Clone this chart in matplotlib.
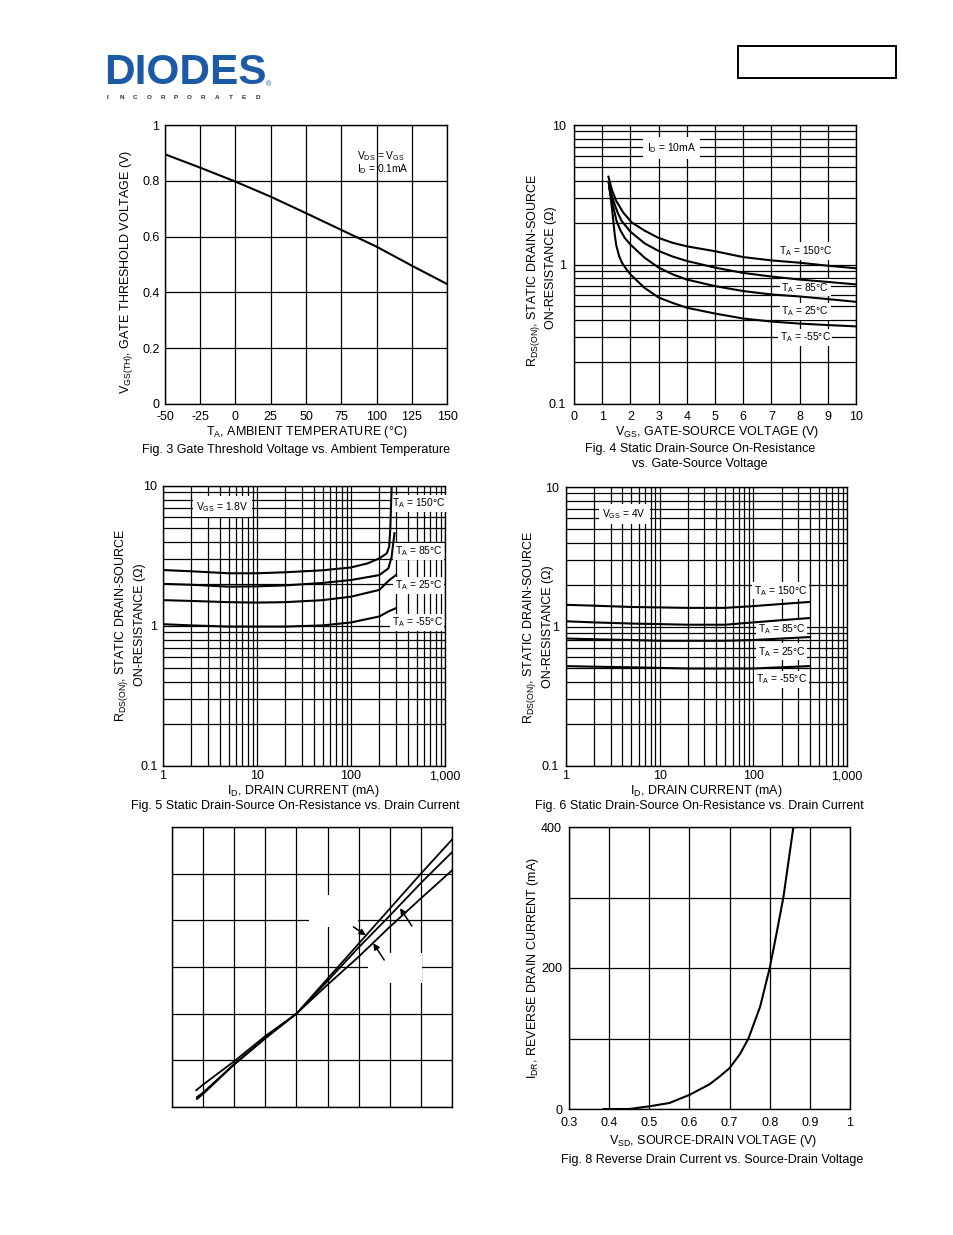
import numpy as np
import matplotlib
matplotlib.use('Agg')
import matplotlib.pyplot as plt
from matplotlib.ticker import LogLocator, NullFormatter, FixedLocator
from matplotlib.patches import Rectangle

plt.rcParams['font.family'] = ['Liberation Sans', 'DejaVu Sans']
plt.rcParams['mathtext.fontset'] = 'custom'
plt.rcParams['mathtext.rm'] = 'Liberation Sans'
plt.rcParams['mathtext.it'] = 'Liberation Sans:italic'
plt.rcParams['mathtext.bf'] = 'Liberation Sans:bold'

# ---------------- data ----------------
# Fig 3: gate threshold voltage vs ambient temperature
fig3_temp = [-50, -25, 0, 25, 50, 75, 100, 125, 150]
fig3_vth = [0.895, 0.847, 0.797, 0.743, 0.684, 0.624, 0.564, 0.496, 0.43]
fig3_xticks = [-50, -25, 0, 25, 50, 75, 100, 125, 150]
fig3_yticks = [0, 0.2, 0.4, 0.6, 0.8, 1]
fig3_ylabels = ['0', '0.2', '0.4', '0.6', '0.8', '1']

# Fig 4: RDS(on) vs VGS (ID = 10mA)
fig4_vgs_150 = [1.22, 1.35, 1.5, 1.75, 2.05, 2.5, 3, 3.5, 4, 5, 6, 7, 8, 9, 10]
fig4_r_150 = [4.26, 3.4, 2.85, 2.35, 2.0, 1.75, 1.55, 1.43, 1.35, 1.245, 1.13, 1.07, 1.03, 0.98, 0.94]
fig4_vgs_85 = [1.22, 1.3, 1.4, 1.55, 1.69, 2, 2.5, 3, 3.5, 4, 5, 6, 7, 8, 9, 10]
fig4_r_85 = [3.9, 3.3, 2.85, 2.35, 2.05, 1.72, 1.42, 1.25, 1.14, 1.06, 0.95, 0.87, 0.82, 0.78, 0.75, 0.72]
fig4_vgs_25 = [1.25, 1.32, 1.4, 1.51, 1.65, 1.8, 2, 2.5, 3, 3.5, 4, 5, 6, 7, 8, 9, 10]
fig4_r_25 = [3.6, 3.0, 2.55, 2.05, 1.75, 1.55, 1.39, 1.12, 0.95, 0.85, 0.78, 0.70, 0.645, 0.61, 0.59, 0.565, 0.54]
fig4_vgs_m55 = [1.25, 1.3, 1.35, 1.4, 1.45, 1.5, 1.6, 1.7, 1.85, 2, 2.5, 3, 3.5, 4, 5, 6, 7, 8, 9, 10]
fig4_r_m55 = [3.6, 3.0, 2.5, 2.0, 1.6, 1.37, 1.15, 1.03, 0.93, 0.85, 0.68, 0.58, 0.53, 0.49, 0.445, 0.41, 0.39, 0.377, 0.368, 0.36]
fig4_xticks = [0, 1, 2, 3, 4, 5, 6, 7, 8, 9, 10]

# Fig 5: RDS(on) vs ID (VGS = 1.8V)
fig5_id_150 = [1, 2, 5, 10, 20, 50, 100, 150, 200, 240, 255, 262, 268, 272]
fig5_r_150 = [2.51, 2.46, 2.38, 2.38, 2.42, 2.5, 2.62, 2.8, 3.04, 3.3, 3.7, 5.0, 8.0, 11.0]
fig5_id_85 = [1, 2, 5, 10, 20, 50, 100, 200, 250, 270, 290]
fig5_r_85 = [2.0, 1.97, 1.91, 1.92, 1.95, 2.03, 2.13, 2.31, 2.58, 3.1, 4.6]
fig5_id_25 = [1, 2, 5, 10, 20, 50, 100, 200, 250, 300]
fig5_r_25 = [1.53, 1.51, 1.48, 1.47, 1.48, 1.53, 1.62, 1.81, 2.1, 2.31]
fig5_id_m55 = [1, 2, 5, 10, 20, 50, 100, 200, 250, 300]
fig5_r_m55 = [1.03, 1.01, 0.99, 0.99, 0.99, 1.01, 1.06, 1.17, 1.27, 1.34]

# Fig 6: RDS(on) vs ID (VGS = 4V)
fig6_id = [1, 2, 5, 10, 20, 50, 100, 200, 400]
fig6_r_150 = [1.43, 1.41, 1.38, 1.37, 1.36, 1.36, 1.40, 1.45, 1.50]
fig6_r_85 = [1.09, 1.07, 1.05, 1.04, 1.03, 1.03, 1.07, 1.11, 1.15]
fig6_r_25 = [0.82, 0.81, 0.80, 0.79, 0.79, 0.79, 0.80, 0.82, 0.84]
fig6_r_m55 = [0.52, 0.515, 0.51, 0.505, 0.50, 0.50, 0.50, 0.51, 0.52]

log_ticks = [1, 10, 100, 1000]
log_ticklabels = ['1', '10', '100', '1,000']
r_ticks = [0.1, 1, 10]
r_ticklabels = ['0.1', '1', '10']

# Fig 7: unlabeled chart (grid units)
fig7_x_a = [0.8, 1, 2, 3, 4, 5, 6, 7, 8, 9]
fig7_y_a = [0.17, 0.28, 0.91, 1.47, 2.0, 2.75, 3.5, 4.25, 5.0, 5.73]
fig7_x_b = [0.8, 1, 2, 3, 4, 5, 6, 7, 8, 9]
fig7_y_b = [0.21, 0.31, 0.92, 1.48, 2.0, 2.7, 3.42, 4.1, 4.8, 5.46]
fig7_x_c = [0.78, 1, 2, 3, 4, 5, 6, 7, 8, 9]
fig7_y_c = [0.36, 0.48, 0.98, 1.52, 2.0, 2.62, 3.22, 3.86, 4.47, 5.07]

# Fig 8: reverse drain current vs source-drain voltage
fig8_vsd = [0.386, 0.45, 0.5, 0.55, 0.6, 0.65, 0.675, 0.7, 0.726, 0.747, 0.776, 0.8, 0.817, 0.834, 0.846, 0.859]
fig8_idr = [0, 0, 3.8, 8.5, 20, 35, 46, 58, 78, 100, 145, 200, 249, 300, 348, 400]
fig8_xticks = [0.3, 0.4, 0.5, 0.6, 0.7, 0.8, 0.9, 1.0]
fig8_xlabels = ['0.3', '0.4', '0.5', '0.6', '0.7', '0.8', '0.9', '1']
fig8_ygrid = [0, 100, 200, 300, 400]
fig8_ylabel_vals = [0, 200, 400]

# ---------------- figure ----------------
W, H = 954, 1235
fig = plt.figure(figsize=(W / 100, H / 100), dpi=100)
fig.patch.set_facecolor('white')

def add_ax(x0, y0, x1, y1):
    return fig.add_axes([x0 / W, 1 - y1 / H, (x1 - x0) / W, (y1 - y0) / H])

def ftext(x, y, s, **kw):
    kw.setdefault('ha', 'center')
    kw.setdefault('va', 'center')
    return fig.text(x / W, 1 - y / H, s, **kw)

def style(ax, xpad=5, ypad=4):
    for s in ax.spines.values():
        s.set_linewidth(1.0)
        s.set_color('black')
    ax.tick_params(which='both', length=0, labelsize=9, colors='black')
    ax.tick_params(axis='x', pad=xpad)
    ax.tick_params(axis='y', pad=ypad)
    ax.grid(True, which='both', color='black', linewidth=0.9)
    ax.set_axisbelow(True)

LW = 1.5
TS = 7.4   # annotation size
LS = 9.0   # axis label size
CS = 9.0   # caption size
box = dict(facecolor='white', edgecolor='none', pad=1.2)

def curve(ax, x, y, lw=LW):
    ax.plot(x, y, color='black', lw=lw, zorder=5)

# ---- header ----
ftext(104, 84.5, 'DIODES', fontsize=30.5, weight='bold', color='#1d5aa6', ha='left', va='baseline')
fig.add_artist(plt.Line2D([106 / W, 190 / W], [1 - 70 / H, 1 - 70 / H], color='white', lw=1.2))
for i, ch in enumerate('INCORPORATED'):
    ftext(108 + i * 13.6, 98.6, ch, fontsize=4.6, weight='bold', color='#333333', va='baseline')
ftext(268, 85, '®', fontsize=5, color='#1d5aa6')
fig.add_artist(Rectangle((738 / W, 1 - 78 / H), (896 - 738) / W, (78 - 46) / H,
                         transform=fig.transFigure, fill=False, edgecolor='black', lw=1.4))

# ---- Fig 3 ----
ax3 = add_ax(165, 125, 447, 404)
curve(ax3, fig3_temp, fig3_vth)
ax3.set_xlim(-50, 150)
ax3.set_ylim(0, 1)
ax3.set_xticks(fig3_xticks)
ax3.set_xticklabels([str(t) for t in fig3_xticks])
ax3.set_yticks(fig3_yticks)
ax3.set_yticklabels(fig3_ylabels)
style(ax3, xpad=5, ypad=4)
ax3.text(0.68, 0.865, 'V$_{\\rm DS}$ = V$_{\\rm GS}$\nI$_{\\rm D}$ = 0.1mA', transform=ax3.transAxes,
         fontsize=TS, ha='left', va='center', linespacing=1.0)
ftext(127, 272, r'V$_{\rm GS(TH)}$, GATE THRESHOLD VOLTAGE (V)', rotation=90, fontsize=LS)
ftext(307, 432, r'T$_{\rm A}$, AMBIENT TEMPERATURE (°C)', fontsize=LS)
ftext(296, 450, 'Fig. 3 Gate Threshold Voltage vs. Ambient Temperature', fontsize=CS)

# ---- Fig 4 ----
ax4 = add_ax(574, 125, 856, 404)
curve(ax4, fig4_vgs_150, fig4_r_150)
curve(ax4, fig4_vgs_85, fig4_r_85)
curve(ax4, fig4_vgs_25, fig4_r_25)
curve(ax4, fig4_vgs_m55, fig4_r_m55)
ax4.set_yscale('log')
ax4.set_xlim(0, 10)
ax4.set_ylim(0.1, 10)
ax4.set_xticks(fig4_xticks)
ax4.set_xticklabels([str(t) for t in fig4_xticks])
ax4.yaxis.set_major_locator(FixedLocator(r_ticks))
ax4.set_yticklabels(r_ticklabels)
ax4.yaxis.set_minor_locator(LogLocator(base=10, subs=np.arange(2, 10)))
ax4.yaxis.set_minor_formatter(NullFormatter())
style(ax4, xpad=5, ypad=6)
ax4.text(3.45, 6.8, r'I$_{\rm D}$ = 10mA', fontsize=TS, ha='center', va='center',
         bbox=dict(facecolor='white', edgecolor='none', pad=3))
ax4.text(8.2, 1.25, r'T$_{\rm A}$ = 150°C', fontsize=TS, ha='center', va='center', bbox=box)
ax4.text(8.2, 0.68, r'T$_{\rm A}$ = 85°C', fontsize=TS, ha='center', va='center', bbox=box)
ax4.text(8.2, 0.46, r'T$_{\rm A}$ = 25°C', fontsize=TS, ha='center', va='center', bbox=box)
ax4.text(8.2, 0.30, r'T$_{\rm A}$ = -55°C', fontsize=TS, ha='center', va='center', bbox=box)
ftext(533, 270, r'R$_{\rm DS(ON)}$, STATIC DRAIN-SOURCE', rotation=90, fontsize=LS)
ftext(551, 268, 'ON-RESISTANCE (Ω)', rotation=90, fontsize=LS)
ftext(717, 432, r'V$_{\rm GS}$, GATE-SOURCE VOLTAGE (V)', fontsize=LS)
ftext(700, 449, 'Fig. 4 Static Drain-Source On-Resistance', fontsize=CS)
ftext(700, 464, 'vs. Gate-Source Voltage', fontsize=CS)

def log_axes(ax):
    ax.set_xscale('log')
    ax.set_yscale('log')
    ax.set_xlim(1, 1000)
    ax.set_ylim(0.1, 10)
    ax.xaxis.set_major_locator(FixedLocator(log_ticks))
    ax.set_xticklabels(log_ticklabels)
    ax.xaxis.set_minor_locator(LogLocator(base=10, subs=np.arange(2, 10)))
    ax.xaxis.set_minor_formatter(NullFormatter())
    ax.yaxis.set_major_locator(FixedLocator(r_ticks))
    ax.set_yticklabels(r_ticklabels)
    ax.yaxis.set_minor_locator(LogLocator(base=10, subs=np.arange(2, 10)))
    ax.yaxis.set_minor_formatter(NullFormatter())

# ---- Fig 5 ----
ax5 = add_ax(163, 486, 445, 766)
curve(ax5, fig5_id_150, fig5_r_150)
curve(ax5, fig5_id_85, fig5_r_85)
curve(ax5, fig5_id_25, fig5_r_25)
curve(ax5, fig5_id_m55, fig5_r_m55)
log_axes(ax5)
style(ax5, xpad=3, ypad=4)
ax5.text(4.3, 7.1, r'V$_{\rm GS}$ = 1.8V', fontsize=TS, ha='center', va='center',
         bbox=dict(facecolor='white', edgecolor='none', pad=2.5))
ax5.text(520, 7.5, r'T$_{\rm A}$ = 150°C', fontsize=TS, ha='center', va='center', bbox=box)
ax5.text(520, 3.4, r'T$_{\rm A}$ = 85°C', fontsize=TS, ha='center', va='center', bbox=box)
ax5.text(520, 1.96, r'T$_{\rm A}$ = 25°C', fontsize=TS, ha='center', va='center', bbox=box)
ax5.text(505, 1.06, r'T$_{\rm A}$ = -55°C', fontsize=TS, ha='center', va='center', bbox=box)
ftext(122, 625, r'R$_{\rm DS(ON)}$, STATIC DRAIN-SOURCE', rotation=90, fontsize=LS)
ftext(140, 625, 'ON-RESISTANCE (Ω)', rotation=90, fontsize=LS)
ftext(303, 791, r'I$_{\rm D}$, DRAIN CURRENT (mA)', fontsize=LS)
ftext(295, 806, 'Fig. 5 Static Drain-Source On-Resistance vs. Drain Current', fontsize=CS)

# ---- Fig 6 ----
ax6 = add_ax(566, 487, 847, 766)
curve(ax6, fig6_id, fig6_r_150)
curve(ax6, fig6_id, fig6_r_85)
curve(ax6, fig6_id, fig6_r_25)
curve(ax6, fig6_id, fig6_r_m55)
log_axes(ax6)
style(ax6, xpad=3, ypad=5)
ax6.text(4.2, 6.4, r'V$_{\rm GS}$ = 4V', fontsize=TS, ha='center', va='center',
         bbox=dict(facecolor='white', edgecolor='none', pad=2.5))
ax6.text(195, 1.8, r'T$_{\rm A}$ = 150°C', fontsize=TS, ha='center', va='center', bbox=box)
ax6.text(200, 0.96, r'T$_{\rm A}$ = 85°C', fontsize=TS, ha='center', va='center', bbox=box)
ax6.text(200, 0.66, r'T$_{\rm A}$ = 25°C', fontsize=TS, ha='center', va='center', bbox=box)
ax6.text(200, 0.42, r'T$_{\rm A}$ = -55°C', fontsize=TS, ha='center', va='center', bbox=box)
ftext(530, 627, r'R$_{\rm DS(ON)}$, STATIC DRAIN-SOURCE', rotation=90, fontsize=LS)
ftext(548, 627, 'ON-RESISTANCE (Ω)', rotation=90, fontsize=LS)
ftext(706, 791, r'I$_{\rm D}$, DRAIN CURRENT (mA)', fontsize=LS)
ftext(699, 806, 'Fig. 6 Static Drain-Source On-Resistance vs. Drain Current', fontsize=CS)

# ---- Fig 7 (unlabeled) ----
ax7 = add_ax(172, 827, 452, 1107)
curve(ax7, fig7_x_a, fig7_y_a, lw=1.3)
curve(ax7, fig7_x_b, fig7_y_b, lw=1.3)
curve(ax7, fig7_x_c, fig7_y_c, lw=1.3)
ax7.set_xlim(0, 9)
ax7.set_ylim(0, 6)
ax7.set_xticks(range(0, 10))
ax7.set_yticks(range(0, 7))
ax7.set_xticklabels([])
ax7.set_yticklabels([])
style(ax7)
ax7.add_patch(Rectangle((4.4, 3.86), 1.57, 0.68, facecolor='white', edgecolor='none', zorder=1))
ax7.add_patch(Rectangle((6.3, 2.66), 1.72, 0.64, facecolor='white', edgecolor='none', zorder=1))
arrow = dict(arrowstyle='-|>', color='black', lw=1.1, mutation_scale=9, shrinkA=0, shrinkB=0)
ax7.annotate('', xy=(6.23, 3.68), xytext=(5.83, 3.86), arrowprops=arrow)
ax7.annotate('', xy=(6.47, 3.51), xytext=(6.82, 3.15), arrowprops=arrow)
ax7.annotate('', xy=(7.33, 4.26), xytext=(7.71, 3.88), arrowprops=arrow)

# ---- Fig 8 ----
ax8 = add_ax(569, 827, 850, 1109)
curve(ax8, fig8_vsd, fig8_idr)
ax8.set_xlim(0.3, 1.0)
ax8.set_ylim(0, 400)
ax8.set_xticks(fig8_xticks)
ax8.set_xticklabels(fig8_xlabels)
ax8.set_yticks(fig8_ygrid)
ax8.set_yticklabels([str(v) if v in fig8_ylabel_vals else '' for v in fig8_ygrid])
style(ax8, xpad=6, ypad=5)
ftext(533, 968, r'I$_{\rm DR}$, REVERSE DRAIN CURRENT (mA)', rotation=90, fontsize=LS)
ftext(713, 1141, r'V$_{\rm SD}$, SOURCE-DRAIN VOLTAGE (V)', fontsize=LS)
ftext(712, 1160, 'Fig. 8 Reverse Drain Current vs. Source-Drain Voltage', fontsize=CS)

fig.savefig('out.png', dpi=100)
